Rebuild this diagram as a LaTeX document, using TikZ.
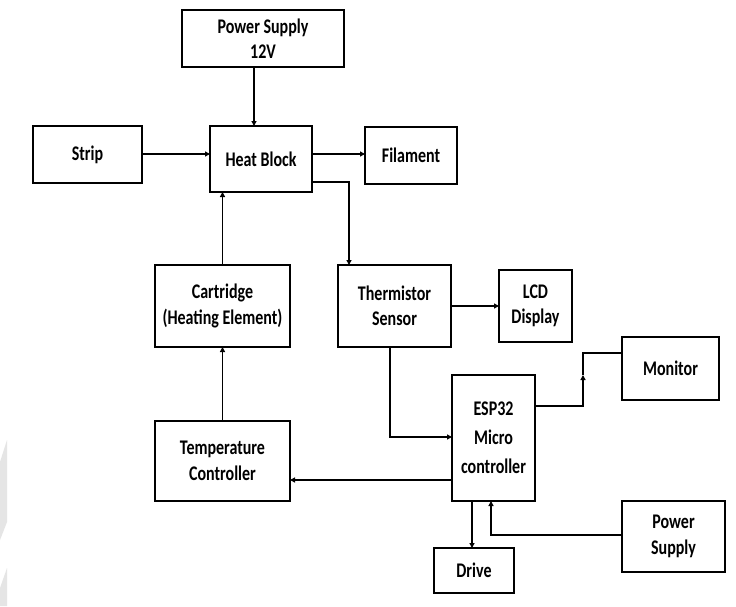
\documentclass[tikz,border=0pt]{standalone}
\usepackage{fontspec}
\setmainfont{Carlito}
\usetikzlibrary{arrows.meta}
\newcommand{\tl}[1]{\scalebox{1}[1.3]{#1}}
\begin{document}
\begin{tikzpicture}[x=1pt,y=-1pt,
  blk/.style={draw=black, line width=2pt, inner sep=0pt, outer sep=0pt,
    align=center, font=\bfseries\fontsize{16}{25.5}\selectfont},
  arr/.style={line width=1.8pt, -{Triangle[length=5pt,width=5pt]}},
  ln/.style={line width=1.8pt},
  wm/.style={fill=black!10, draw=none}]
\useasboundingbox (0,0) rectangle (736,606);
\fill[white] (0,0) rectangle (736,606);
% faint watermark at left edge
\fill[wm] (0,462) -- (7,440) -- (7,522) -- (0,540) -- cycle;
\fill[wm] (0,588) -- (7,568) -- (7,606) -- (0,606) -- cycle;
% boxes
\node[blk, minimum width=162pt, minimum height=57pt] (ps12) at (263,38.5) {\tl{Power Supply}\\\tl{12V}};
\node[blk, minimum width=109pt, minimum height=57pt] (strip) at (87.5,154.5) {\tl{Strip}};
\node[blk, minimum width=102pt, minimum height=66pt] (hb) at (261,159) {\tl{Heat Block}};
\node[blk, minimum width=92pt, minimum height=57pt] (fil) at (411,155.5) {\tl{Filament}};
\node[blk, minimum width=135pt, minimum height=82pt] (cart) at (222.5,306) {\tl{Cartridge}\\\tl{(Heating Element)}};
\node[blk, minimum width=113pt, minimum height=82pt] (therm) at (394.5,306) {\tl{Thermistor}\\\tl{Sensor}};
\node[blk, minimum width=73pt, minimum height=72pt] (lcd) at (535.5,306) {\tl{LCD}\\\tl{Display}};
\node[blk, minimum width=135pt, minimum height=80pt] (tc) at (222.5,461) {\tl{Temperature}\\\tl{Controller}};
\node[blk, minimum width=83pt, minimum height=126pt, font=\bfseries\fontsize{16}{29}\selectfont] (esp) at (493.5,438) {\tl{ESP32}\\\tl{Micro}\\\tl{controller}};
\node[blk, minimum width=97pt, minimum height=63pt] (mon) at (670.5,368.5) {\tl{Monitor}};
\node[blk, minimum width=80pt, minimum height=45pt] (drive) at (474,570.5) {\tl{Drive}};
\node[blk, minimum width=103pt, minimum height=71pt] (ps) at (673.5,536.5) {\tl{Power}\\\tl{Supply}};
% connectors
\draw[arr] (ps12.south -| 254,0) -- (hb.north -| 254,0);
\draw[arr] (strip.east |- 0,154) -- (hb.west |- 0,154);
\draw[arr] (hb.east |- 0,154) -- (fil.west |- 0,154);
\draw[arr] (hb.east |- 0,182) -| (therm.north -| 349,0);
\draw[arr] (cart.north) -- (cart.north |- hb.south);
\draw[arr] (tc.north) -- (cart.south);
\draw[arr] (therm.east) -- (lcd.west);
\draw[arr] (therm.south -| 390,0) |- (esp.west |- 0,437);
\draw[arr] (esp.west |- 0,480) -- (tc.east |- 0,480);
\coordinate (mk) at (583,375);
\draw[arr] (esp.east |- 0,406) -| (mk);
\draw[ln] (mk) |- (mon.west |- 0,353);
\draw[arr] (esp.south -| 472,0) -- (drive.north -| 472,0);
\draw[arr] (ps.west |- 0,535) -| (esp.south -| 491,0);
\end{tikzpicture}
\end{document}
